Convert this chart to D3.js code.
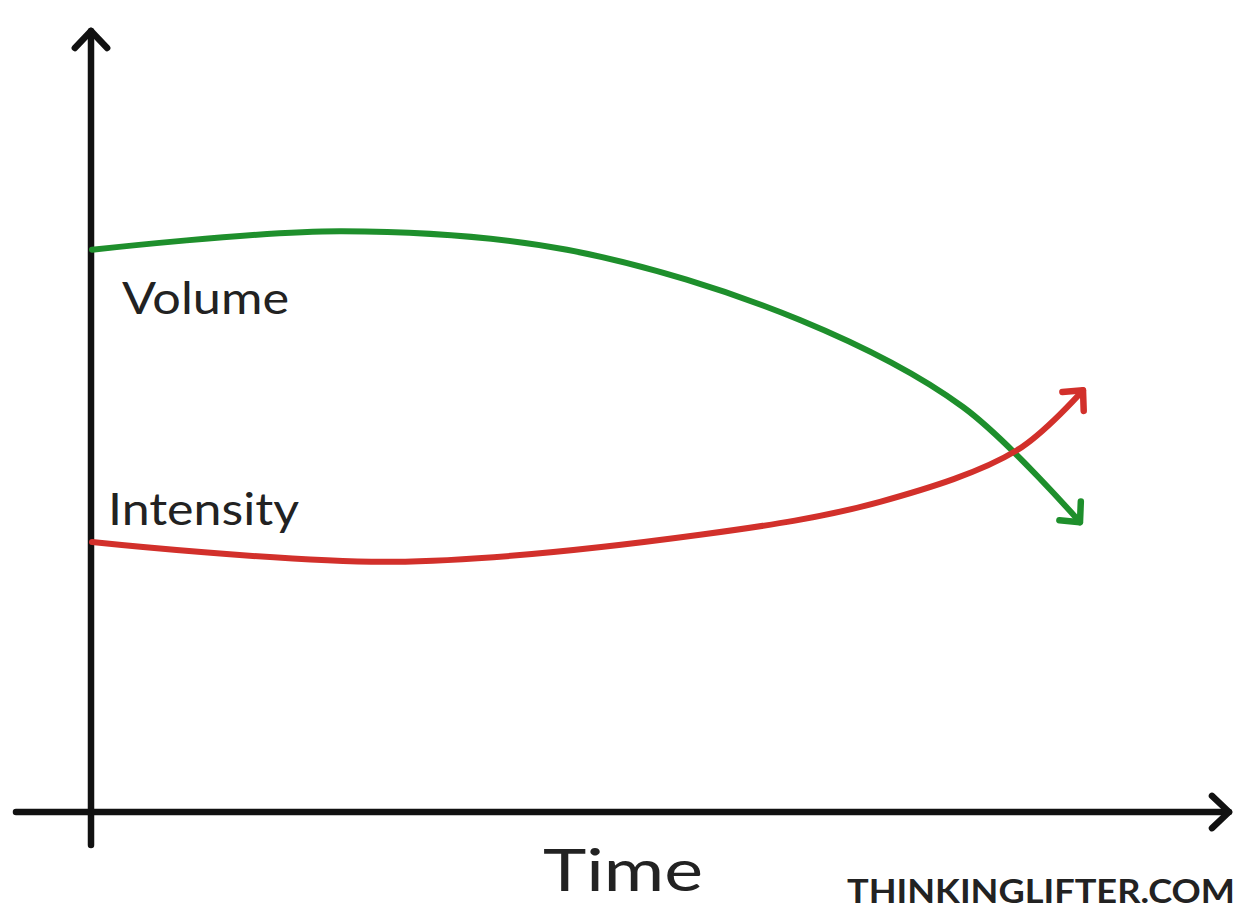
<!DOCTYPE html>
<html>
<head>
<meta charset="utf-8">
<script src="https://cdn.jsdelivr.net/npm/d3@7"></script>
<style>
  html, body { margin: 0; padding: 0; background: #fff; }
  svg { display: block; }
</style>
</head>
<body>
<div id="chart"></div>
<script>
// time points (arbitrary units) and the two sketched series
const volumeTime = [0, 2.5, 4.75, 7.08, 8.71, 9.88];
const volumeValues = [93.7, 96.8, 93.7, 82, 67.5, 48.3];
const intensityTime = [0, 3, 6.08, 7.88, 9.25, 9.91];
const intensityValues = [45, 41.7, 46.2, 51.7, 60.3, 70.3];
const seriesNames = ["Volume", "Intensity"];
const axisTitle = "Time";
const credit = "THINKINGLIFTER.COM";

const width = 1247, height = 909;

const svg = d3.select("#chart")
  .append("svg")
  .attr("width", width)
  .attr("height", height);

// scales
const x = d3.scaleLinear().domain([0, 10]).range([92, 1092]);
const y = d3.scaleLinear().domain([0, 100]).range([812, 212]);

// arrowhead markers
const defs = svg.append("defs");
function chevron(id, color, size) {
  defs.append("marker")
    .attr("id", id)
    .attr("markerUnits", "userSpaceOnUse")
    .attr("viewBox", "-30 -20 40 40")
    .attr("refX", 0)
    .attr("refY", 0)
    .attr("markerWidth", 40)
    .attr("markerHeight", 40)
    .attr("orient", "auto")
    .append("path")
    .attr("d", `M${-size},${-size * 0.95}L0,0L${-size},${size * 0.95}`)
    .attr("fill", "none")
    .attr("stroke", color)
    .attr("stroke-width", 6.5)
    .attr("stroke-linecap", "round")
    .attr("stroke-linejoin", "round");
}
chevron("arrowBlack", "#111", 17);
chevron("arrowGreen", "#1e8f2c", 15);
chevron("arrowRed", "#d2302b", 15);

// axes
svg.append("line")
  .attr("x1", x(-0.01)).attr("y1", 845)
  .attr("x2", x(-0.01)).attr("y2", 31)
  .attr("stroke", "#111").attr("stroke-width", 6.5)
  .attr("stroke-linecap", "round")
  .attr("marker-end", "url(#arrowBlack)");

svg.append("line")
  .attr("x1", 16).attr("y1", y(0))
  .attr("x2", 1229).attr("y2", y(0))
  .attr("stroke", "#111").attr("stroke-width", 6.5)
  .attr("stroke-linecap", "round")
  .attr("marker-end", "url(#arrowBlack)");

// curves
const line = d3.line()
  .x(d => x(d[0]))
  .y(d => y(d[1]))
  .curve(d3.curveCatmullRom.alpha(0.5));

svg.append("path")
  .datum(d3.zip(volumeTime, volumeValues))
  .attr("d", line)
  .attr("fill", "none")
  .attr("stroke", "#1e8f2c")
  .attr("stroke-width", 6)
  .attr("stroke-linecap", "round")
  .attr("marker-end", "url(#arrowGreen)");

svg.append("path")
  .datum(d3.zip(intensityTime, intensityValues))
  .attr("d", line)
  .attr("fill", "none")
  .attr("stroke", "#d2302b")
  .attr("stroke-width", 6)
  .attr("stroke-linecap", "round")
  .attr("marker-end", "url(#arrowRed)");

// labels (the reference is a little stretched sideways)
svg.append("text")
  .attr("x", 122).attr("y", 314)
  .attr("font-family", "Lato, sans-serif")
  .attr("font-size", 45)
  .attr("textLength", 167)
  .attr("lengthAdjust", "spacingAndGlyphs")
  .attr("fill", "#222")
  .text(seriesNames[0]);

svg.append("text")
  .attr("x", 108).attr("y", 525)
  .attr("font-family", "Lato, sans-serif")
  .attr("font-size", 45)
  .attr("textLength", 191)
  .attr("lengthAdjust", "spacingAndGlyphs")
  .attr("fill", "#222")
  .text(seriesNames[1]);

svg.append("text")
  .attr("x", 543).attr("y", 891)
  .attr("font-family", "Lato, sans-serif")
  .attr("font-size", 59)
  .attr("textLength", 160)
  .attr("lengthAdjust", "spacingAndGlyphs")
  .attr("fill", "#222")
  .text(axisTitle);

svg.append("text")
  .attr("x", 847).attr("y", 903)
  .attr("font-family", "Lato, sans-serif")
  .attr("font-weight", "bold")
  .attr("font-size", 33)
  .attr("textLength", 388)
  .attr("lengthAdjust", "spacingAndGlyphs")
  .attr("fill", "#222")
  .text(credit);
</script>
</body>
</html>
